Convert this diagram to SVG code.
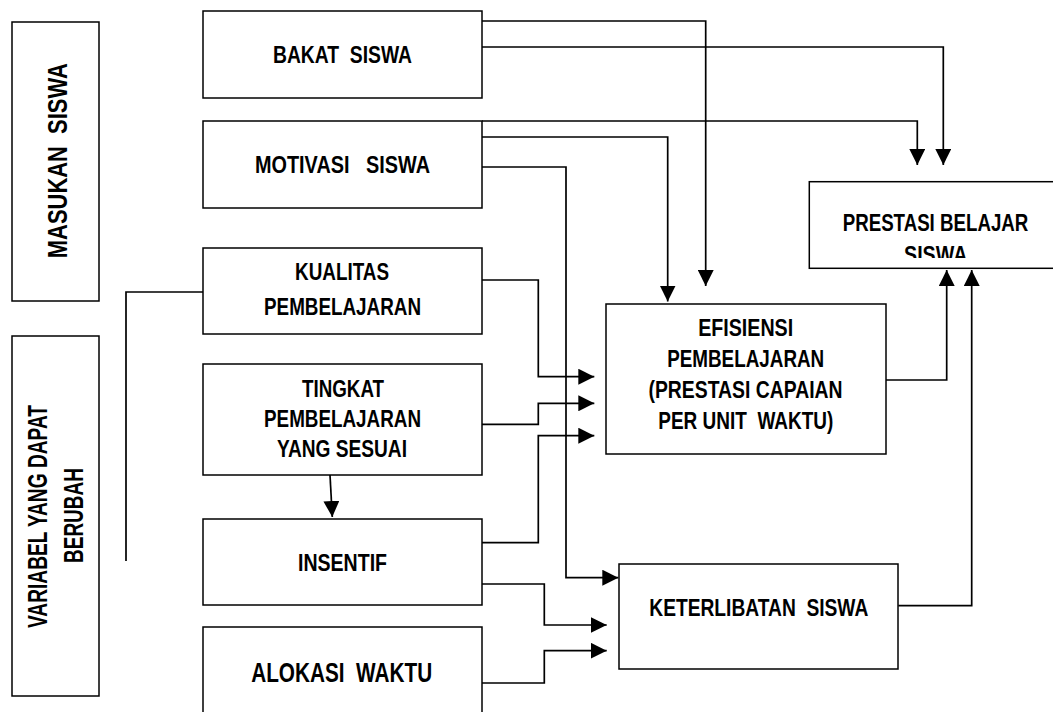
<svg xmlns="http://www.w3.org/2000/svg" width="1053" height="712" viewBox="0 0 1053 712">
<style>
.box{fill:#fff;stroke:#000;stroke-width:1.5}
.ln{fill:none;stroke:#000;stroke-width:1.7}
.t{font-family:"Liberation Sans",Arial,sans-serif;font-weight:bold;font-size:24px;fill:#000;text-anchor:middle}
.big{font-size:27px}
</style>
<defs>
<marker id="ah" markerUnits="userSpaceOnUse" markerWidth="17" markerHeight="16" refX="16" refY="8" orient="auto" viewBox="0 0 17 16">
<path d="M0,0 L16,8 L0,16 z" fill="#000"/>
</marker>
<clipPath id="clipP"><rect x="809" y="182" width="260" height="76"/></clipPath>
</defs>
<rect width="1053" height="712" fill="#fff"/>

<g id="masukan">
<rect class="box" x="12" y="22" width="87" height="279"/>
<text class="t big" xml:space="preserve" transform="translate(66.5,160.7) rotate(-90)" textLength="195" lengthAdjust="spacingAndGlyphs">MASUKAN  SISWA</text>
</g>
<g id="variabel">
<rect class="box" x="12" y="336" width="87" height="360"/>
<text class="t big" transform="translate(46.5,516.5) rotate(-90)" textLength="223" lengthAdjust="spacingAndGlyphs">VARIABEL YANG DAPAT</text>
<text class="t big" transform="translate(83.3,515.5) rotate(-90)" textLength="95" lengthAdjust="spacingAndGlyphs">BERUBAH</text>
</g>

<g id="bakat">
<rect class="box" x="203" y="11" width="279" height="87"/>
<text class="t" xml:space="preserve" x="342.5" y="63.3" textLength="139" lengthAdjust="spacingAndGlyphs">BAKAT  SISWA</text>
</g>
<g id="motivasi">
<rect class="box" x="203" y="121" width="279" height="87"/>
<text class="t" xml:space="preserve" x="342.5" y="173.3" textLength="175" lengthAdjust="spacingAndGlyphs">MOTIVASI   SISWA</text>
</g>
<g id="kualitas">
<rect class="box" x="203" y="248" width="279" height="86"/>
<text class="t" x="342" y="280" textLength="94" lengthAdjust="spacingAndGlyphs">KUALITAS</text>
<text class="t" x="342.5" y="315" textLength="157" lengthAdjust="spacingAndGlyphs">PEMBELAJARAN</text>
</g>
<g id="tingkat">
<rect class="box" x="203" y="364" width="279" height="111"/>
<text class="t" x="343" y="396.7" textLength="82" lengthAdjust="spacingAndGlyphs">TINGKAT</text>
<text class="t" x="342.5" y="427.3" textLength="157" lengthAdjust="spacingAndGlyphs">PEMBELAJARAN</text>
<text class="t" x="342" y="457.3" textLength="130" lengthAdjust="spacingAndGlyphs">YANG SESUAI</text>
</g>
<g id="insentif">
<rect class="box" x="203" y="519" width="279" height="86"/>
<text class="t" x="342.5" y="570.7" textLength="89" lengthAdjust="spacingAndGlyphs">INSENTIF</text>
</g>
<g id="alokasi">
<rect class="box" x="203" y="627" width="279" height="100"/>
<text class="t big" xml:space="preserve" x="341.7" y="681.7" textLength="181" lengthAdjust="spacingAndGlyphs">ALOKASI  WAKTU</text>
</g>
<g id="efisiensi">
<rect class="box" x="606" y="304" width="280" height="150"/>
<text class="t" x="745.7" y="336" textLength="95" lengthAdjust="spacingAndGlyphs">EFISIENSI</text>
<text class="t" x="745.7" y="367.3" textLength="157" lengthAdjust="spacingAndGlyphs">PEMBELAJARAN</text>
<text class="t" x="745.5" y="398.3" textLength="194" lengthAdjust="spacingAndGlyphs">(PRESTASI CAPAIAN</text>
<text class="t" xml:space="preserve" x="745.8" y="429.3" textLength="175" lengthAdjust="spacingAndGlyphs">PER UNIT  WAKTU)</text>
</g>
<g id="keterlibatan">
<rect class="box" x="619" y="564" width="279" height="105"/>
<text class="t" xml:space="preserve" x="758.8" y="615.7" textLength="219" lengthAdjust="spacingAndGlyphs">KETERLIBATAN  SISWA</text>
</g>
<g id="prestasi">
<rect class="box" x="809.3" y="181.7" width="260" height="86.6"/>
<text class="t" x="935.5" y="231" textLength="185.6" lengthAdjust="spacingAndGlyphs">PRESTASI BELAJAR</text>
<text class="t" x="935.7" y="262.5" textLength="63.3" lengthAdjust="spacingAndGlyphs" clip-path="url(#clipP)">SISWA</text>
</g>

<g id="connectors">
<path class="ln" d="M203,292 H126 V561"/>
<path class="ln" d="M482,21 H705.7 V286" marker-end="url(#ah)"/>
<path class="ln" d="M482,47 H943.3 V165" marker-end="url(#ah)"/>
<path class="ln" d="M482,121 H917.3 V165" marker-end="url(#ah)"/>
<path class="ln" d="M482,137 H667.7 V301.5" marker-end="url(#ah)"/>
<path class="ln" d="M482,167 H566 V577.7 H618.3" marker-end="url(#ah)"/>
<path class="ln" d="M482,280 H538.3 V376.7 H594.3" marker-end="url(#ah)"/>
<path class="ln" d="M482,424.3 H538.3 V403.3 H594.3" marker-end="url(#ah)"/>
<path class="ln" d="M482,542.7 H538.3 V435.7 H594.3" marker-end="url(#ah)"/>
<path class="ln" d="M482,584 H544.3 V625 H606.7" marker-end="url(#ah)"/>
<path class="ln" d="M482,683 H544.3 V650.7 H606.7" marker-end="url(#ah)"/>
<path class="ln" d="M886,380 H946.7 V270" marker-end="url(#ah)"/>
<path class="ln" d="M898.3,605.7 H971.7 V270" marker-end="url(#ah)"/>
<path class="ln" d="M330,475 L332.3,517" marker-end="url(#ah)"/>
</g>
</svg>
